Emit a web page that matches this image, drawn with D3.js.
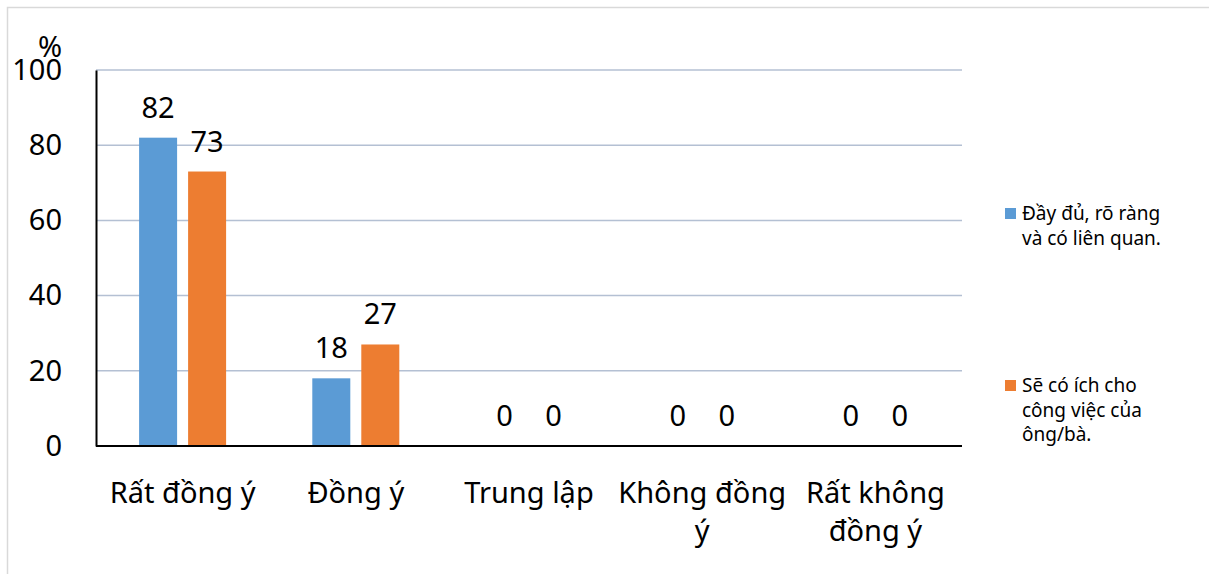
<!DOCTYPE html>
<html>
<head>
<meta charset="utf-8">
<script src="https://cdn.jsdelivr.net/npm/d3@7"></script>
<style>
  html, body { margin: 0; padding: 0; background: #fff; }
  svg text { font-family: "Noto Sans", "Open Sans", sans-serif; fill: #000; }
</style>
</head>
<body>
<svg id="chart" width="1209" height="574"></svg>
<script>
// Survey answers, percent of respondents
const categories = [["Rất đồng ý"], ["Đồng ý"], ["Trung lập"], ["Không đồng", "ý"], ["Rất không", "đồng ý"]];
const seriesNames = [["Đầy đủ, rõ ràng", "và có liên quan."], ["Sẽ có ích cho", "công việc của", "ông/bà."]];
const clearValues = [82, 18, 0, 0, 0];
const usefulValues = [73, 27, 0, 0, 0];
const yTicks = [0, 20, 40, 60, 80, 100];
const colors = ["#5b9bd5", "#ed7d31"];

const svg = d3.select("#chart");
const margin = { left: 96, right: 962, top: 70, bottom: 446 };
const fs = 29;

// outer frame
svg.append("rect").attr("x", 7.5).attr("y", 7.5).attr("width", 1240).attr("height", 600)
  .attr("fill", "none").attr("stroke", "#d9d9d9").attr("stroke-width", 1.5);

const x = d3.scaleBand().domain(d3.range(categories.length)).range([margin.left, margin.right]);
const y = d3.scaleLinear().domain([0, 100]).range([margin.bottom, margin.top]);
const barW = 38, gap = 11;

// gridlines
svg.append("g").selectAll("line").data(yTicks.filter(d => d > 0)).join("line")
  .attr("x1", margin.left).attr("x2", margin.right)
  .attr("y1", d => y(d)).attr("y2", d => y(d))
  .attr("stroke", "#b4c0d3").attr("stroke-width", 1.5);

// y axis
const yAxis = d3.axisLeft(y).tickValues(yTicks).tickSize(0).tickPadding(34);
const gy = svg.append("g").attr("transform", `translate(${margin.left},0)`).call(yAxis);
gy.select(".domain").attr("stroke", "#000").attr("stroke-width", 2);
gy.selectAll("text").attr("font-size", fs).style("font-family", '"Noto Sans", sans-serif').attr("fill", "#000");

svg.append("text").attr("x", 50).attr("y", 57).attr("text-anchor", "middle")
  .attr("font-size", fs).text("%");

// bars
const series = [clearValues, usefulValues];
series.forEach((vals, si) => {
  const offset = si === 0 ? -(gap / 2 + barW) : gap / 2;
  const g = svg.append("g");
  g.selectAll("rect").data(vals).join("rect")
    .attr("x", (d, i) => x(i) + x.bandwidth() / 2 + offset)
    .attr("width", barW)
    .attr("y", d => y(d))
    .attr("height", d => y(0) - y(d))
    .attr("fill", colors[si]);
  g.selectAll("text").data(vals).join("text")
    .attr("x", (d, i) => x(i) + x.bandwidth() / 2 + offset + barW / 2)
    .attr("y", d => y(d) - 20)
    .attr("text-anchor", "middle")
    .attr("font-size", fs)
    .text(d => d);
});

// x axis line
svg.append("line").attr("x1", margin.left).attr("x2", margin.right)
  .attr("y1", y(0)).attr("y2", y(0)).attr("stroke", "#000").attr("stroke-width", 2);

// category labels
categories.forEach((lines, i) => {
  const t = svg.append("text").attr("text-anchor", "middle").attr("font-size", fs)
    .attr("x", x(i) + x.bandwidth() / 2).attr("y", 503);
  lines.forEach((ln, k) => {
    t.append("tspan").attr("x", x(i) + x.bandwidth() / 2).attr("dy", k === 0 ? 0 : 38).text(ln);
  });
});

// legend
const legendY = [208, 380];
seriesNames.forEach((lines, si) => {
  svg.append("rect").attr("x", 1005).attr("y", legendY[si]).attr("width", 11).attr("height", 11)
    .attr("fill", colors[si]);
  const t = svg.append("text").attr("font-size", 19).attr("x", 1022).attr("y", legendY[si] + 12);
  lines.forEach((ln, k) => {
    t.append("tspan").attr("x", 1022).attr("dy", k === 0 ? 0 : 24.5).text(ln);
  });
});
</script>
</body>
</html>
